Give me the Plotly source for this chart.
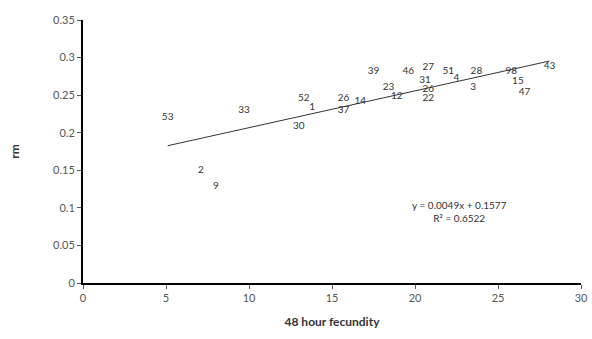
import plotly.graph_objects as go

# Data: 48 hour fecundity vs rm, labelled by line number
labels = ["53", "2", "9", "33", "30", "52", "1", "37", "26", "14", "39", "23", "12",
          "46", "27", "31", "26", "22", "51", "4", "28", "3", "98", "15", "47", "43"]
fecundity = [5.1, 7.1, 8.0, 9.7, 13.0, 13.3, 13.8, 15.7, 15.7, 16.7, 17.5, 18.4, 18.9,
             19.6, 20.8, 20.6, 20.8, 20.8, 22.0, 22.5, 23.7, 23.5, 25.8, 26.2, 26.6, 28.1]
rm = [0.220, 0.150, 0.129, 0.230, 0.208, 0.246, 0.233, 0.230, 0.245, 0.242, 0.281, 0.260, 0.248,
      0.281, 0.287, 0.269, 0.258, 0.245, 0.281, 0.272, 0.281, 0.260, 0.281, 0.268, 0.254, 0.288]

slope = 0.0049
intercept = 0.1577
r2 = 0.6522

x_ticks = [0, 5, 10, 15, 20, 25, 30]
y_ticks = [0, 0.05, 0.1, 0.15, 0.2, 0.25, 0.3, 0.35]
y_tick_text = ["0", "0.05", "0.1", "0.15", "0.2", "0.25", "0.3", "0.35"]

x0, x1 = min(fecundity), max(fecundity)
FONT = "Lato, Liberation Sans, sans-serif"

fig = go.Figure()
fig.add_trace(go.Scatter(
    x=[x0, x1], y=[slope * x0 + intercept, slope * x1 + intercept],
    mode="lines", line=dict(color="#333333", width=1), showlegend=False, hoverinfo="skip"))
fig.add_trace(go.Scatter(
    x=fecundity, y=rm, mode="text", text=labels, textposition="middle center",
    textfont=dict(family=FONT, size=10, color="#333333"),
    showlegend=False, cliponaxis=False))

fig.add_annotation(
    x=0.855, y=0.215, xref="paper", yref="paper",
    text=f"y = {slope}x + {intercept}<br>R² = {r2}",
    showarrow=False, align="center",
    font=dict(family=FONT, size=10, color="#333333"))

axis_font = dict(family=FONT, size=11, color="#555555")
fig.update_layout(
    width=592, height=339,
    margin=dict(l=83, r=11, t=20, b=56),
    paper_bgcolor="white", plot_bgcolor="white",
    xaxis=dict(range=[0, 30], tickvals=x_ticks, showgrid=False, zeroline=False,
               showline=True, linecolor="black", linewidth=2, automargin=False,
               ticks="outside", ticklen=4, tickcolor="#555555",
               tickfont=axis_font,
               title=dict(text="<b>48 hour fecundity</b>", standoff=14,
                          font=dict(family=FONT, size=12, color="#333333"))),
    yaxis=dict(range=[0, 0.35], tickvals=y_ticks, ticktext=y_tick_text, showgrid=False,
               zeroline=False, showline=True, linecolor="black", linewidth=2, automargin=False,
               ticks="outside", ticklen=4, tickcolor="#555555",
               tickfont=axis_font,
               title=dict(text="<b>rm</b>", standoff=31,
                          font=dict(family=FONT, size=12, color="#333333"))),
)

fig.write_html("out.html", config={"displayModeBar": False})
with open("out.html", encoding="utf-8") as f:
    html = f.read()
html = html.replace("<head>", "<head><style>html,body{margin:0;padding:0;overflow:hidden;}</style>", 1)
with open("out.html", "w", encoding="utf-8") as f:
    f.write(html)
